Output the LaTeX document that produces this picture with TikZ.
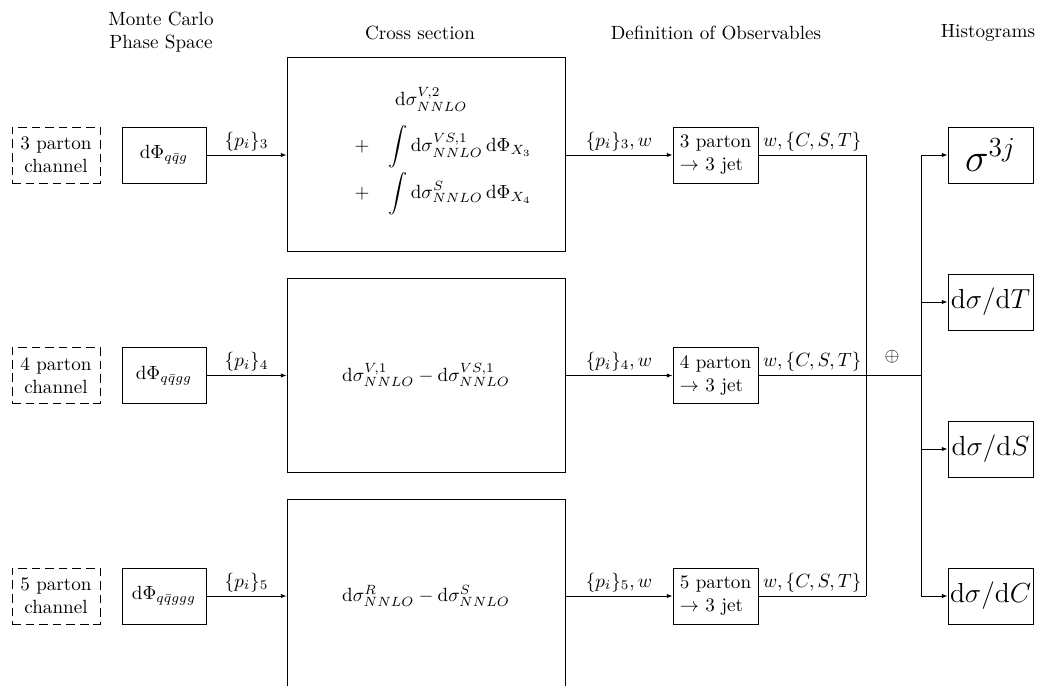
\documentclass[tikz,border=0pt]{standalone}
\usetikzlibrary{arrows.meta}
\begin{document}
\begin{tikzpicture}[x=0.523pt,y=-0.523pt,
  chan/.style={draw, dash pattern=on 4.5pt off 2.6pt, align=center, minimum width=46pt, minimum height=29.3pt, inner sep=1pt},
  ps/.style={draw, minimum width=44pt, minimum height=29.3pt, inner sep=1pt},
  xs/.style={draw, minimum width=145.4pt, minimum height=101.5pt, inner sep=1pt},
  jet/.style={draw, align=left, minimum width=44.5pt, minimum height=29.3pt, inner sep=1pt},
  hist/.style={draw, minimum width=44.5pt, minimum height=29.3pt, inner sep=1pt},
  arr/.style={-{Latex[length=3pt,width=2.2pt]}},
  lab/.style={above, inner sep=2pt}]
\clip (0,0) rectangle (1040,686);
% headers
\node[align=center] (hmc) at (161,32) {Monte Carlo\\Phase Space};
\node (hcs) at (420,33) {Cross section};
\node (hdo) at (716,33) {Definition of Observables};
\node (hhi) at (988,33) {Histograms};
% row 1
\node[chan] (c1) at (56,155) {3 parton\\channel};
\node[ps] (p1) at (164,155) {$\mathrm{d}\Phi_{q\bar q g}$};
\node[xs] (x1) at (426,154) {};
\node (x1t) at (443,151) {$\begin{array}{rl}
 & \hspace{3.5pt}\mathrm{d}\sigma^{V,2}_{NNLO}\\[7pt]
 + & \displaystyle\int \mathrm{d}\sigma^{VS,1}_{NNLO}\,\mathrm{d}\Phi_{X_3}\\[7pt]
 + & \displaystyle\int \mathrm{d}\sigma^{S}_{NNLO}\,\mathrm{d}\Phi_{X_4}
 \end{array}$};
\node[jet] (j1) at (715.5,155) {3 parton\\$\to$ 3 jet};
% row 2
\node[chan] (c2) at (56,375.5) {4 parton\\channel};
\node[ps] (p2) at (164,375.5) {$\mathrm{d}\Phi_{q\bar q gg}$};
\node[xs] (x2) at (426,375) {$\mathrm{d}\sigma^{V,1}_{NNLO}-\mathrm{d}\sigma^{VS,1}_{NNLO}$};
\node[jet] (j2) at (715.5,375.5) {4 parton\\$\to$ 3 jet};
% row 3
\node[chan] (c3) at (56,596) {5 parton\\channel};
\node[ps] (p3) at (164,596) {$\mathrm{d}\Phi_{q\bar q ggg}$};
\node[xs] (x3) at (426,596) {$\mathrm{d}\sigma^{R}_{NNLO}-\mathrm{d}\sigma^{S}_{NNLO}$};
\node[jet] (j3) at (715.5,596) {5 parton\\$\to$ 3 jet};
% histograms
\node[hist] (hs) at (990.5,155) {\huge$\sigma^{3j}$};
\node[hist] (hT) at (990.5,302) {\Large$\mathrm{d}\sigma/\mathrm{d}T$};
\node[hist] (hS) at (990.5,449) {\Large$\mathrm{d}\sigma/\mathrm{d}S$};
\node[hist] (hC) at (990.5,596) {\Large$\mathrm{d}\sigma/\mathrm{d}C$};
% junction coordinates
\coordinate (m1) at (866,155);
\coordinate (m3) at (866,596);
\coordinate (r1) at (921,155);
\coordinate (r2) at (921,375.5);
\coordinate (r4) at (921,596);
\node (op) at (892,357) {$\oplus$};
% connectors
\draw[arr] (p1.east) -- node[lab] {$\{p_i\}_3$} (p1.east -| x1.west);
\draw[arr] (p2.east) -- node[lab] {$\{p_i\}_4$} (p2.east -| x2.west);
\draw[arr] (p3.east) -- node[lab] {$\{p_i\}_5$} (p3.east -| x3.west);
\draw[arr] (j1.west -| x1.east) -- node[lab] {$\{p_i\}_3,w$} (j1.west);
\draw[arr] (j2.west -| x2.east) -- node[lab] {$\{p_i\}_4,w$} (j2.west);
\draw[arr] (j3.west -| x3.east) -- node[lab] {$\{p_i\}_5,w$} (j3.west);
\draw (j1.east) -- node[lab] {$w,\{C,S,T\}$} (m1) -- (m3);
\draw (j3.east) -- node[lab] {$w,\{C,S,T\}$} (m3);
\draw (j2.east) -- node[lab] {$w,\{C,S,T\}$} (j2.east -| m1) -- (r2);
\draw (r1) -- (r4);
\draw[arr] (r1) -- (hs.west);
\draw[arr] (hT.west -| r1) -- (hT.west);
\draw[arr] (hS.west -| r1) -- (hS.west);
\draw[arr] (r4) -- (hC.west);
\end{tikzpicture}
\end{document}
